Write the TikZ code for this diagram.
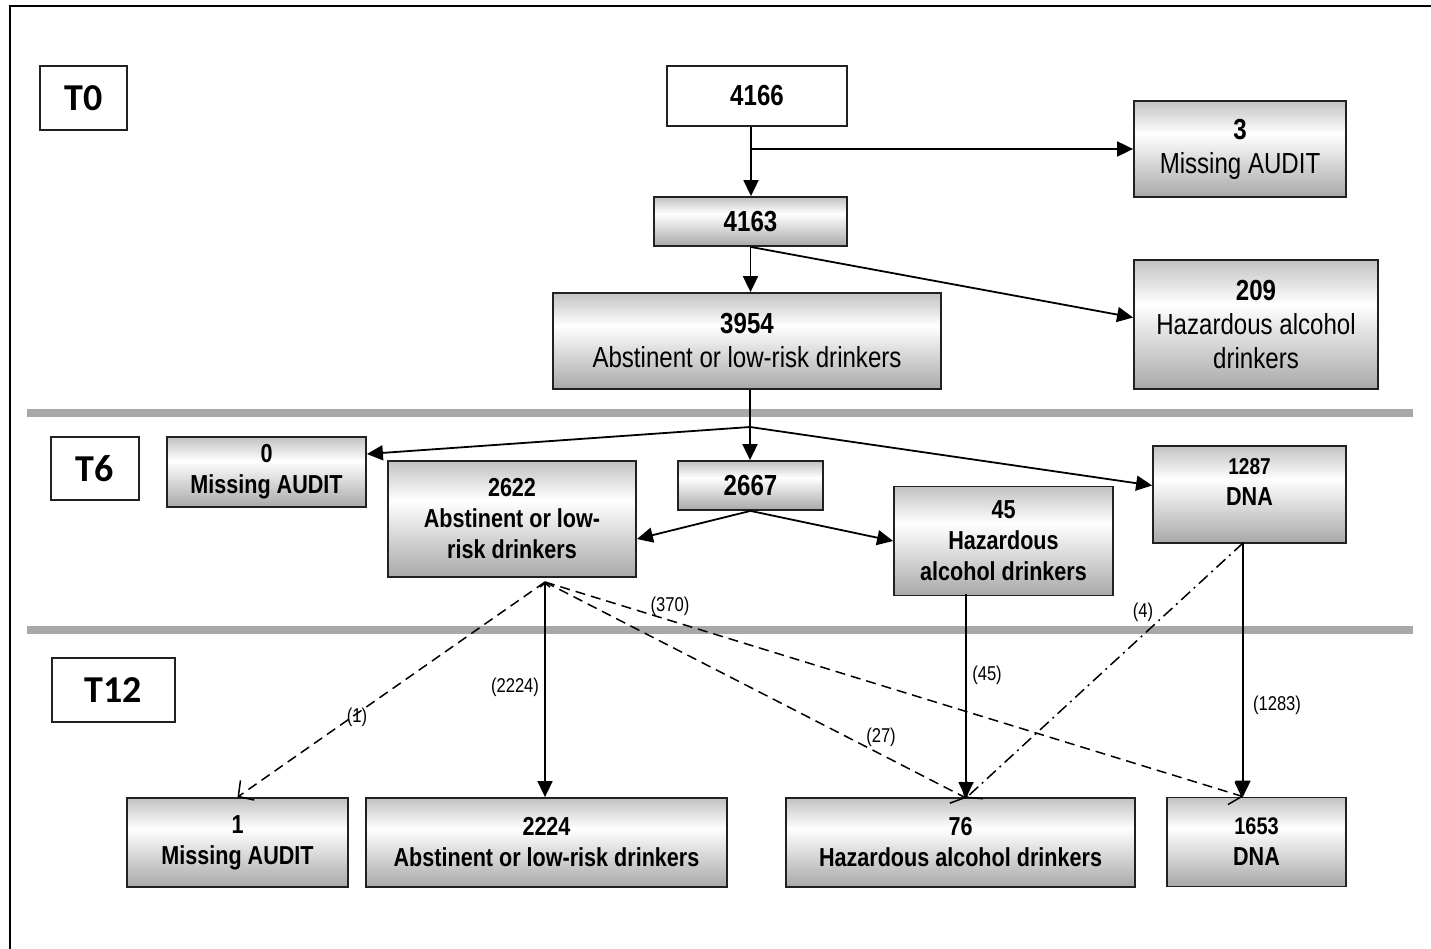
\documentclass[tikz,border=0pt]{standalone}
\usepackage{fontspec}
\newfontfamily\narrowfont[FakeStretch=0.83]{Liberation Sans}
\newfontfamily\calfont{Carlito}
\usetikzlibrary{arrows.meta}
\definecolor{shB}{gray}{0.66}
\definecolor{shT}{gray}{0.76}
\definecolor{sepgray}{gray}{0.66}
\definecolor{bordergray}{gray}{0.13}
\pgfdeclareverticalshading{boxsh}{100bp}{color(0bp)=(shB); color(25bp)=(shB); color(58bp)=(white); color(75bp)=(shT); color(100bp)=(shT)}
\tikzset{
  box/.style={draw=bordergray, line width=1.8pt, inner sep=0pt, align=center, shade, shading=boxsh},
  wbox/.style={draw=bordergray, line width=1.8pt, inner sep=0pt, align=center, fill=white},
  tlab/.style={draw=bordergray, line width=1.8pt, inner sep=0pt, align=center, fill=white,
    font={\calfont\fontsize{38}{40}\selectfont\bfseries}},
  topf/.style={font={\narrowfont\fontsize{29}{34}\selectfont}},
  lowf/.style={font={\narrowfont\fontsize{26}{31}\selectfont\bfseries}},
  numlab/.style={font={\narrowfont\fontsize{20}{22}\selectfont}, inner sep=1pt},
  arr/.style={line width=1.8pt, -{Triangle[length=16pt,width=15pt]}},
  darr/.style={line width=1.5pt, dash pattern=on 10pt off 6pt, -{Straight Barb[length=11pt,width=24pt]}},
  ddarr/.style={line width=1.5pt, dash pattern=on 12pt off 5pt on 2pt off 5pt, -{Straight Barb[length=11pt,width=24pt]}},
  sepline/.style={draw=sepgray, line width=8pt},
}
\begin{document}
\begin{tikzpicture}[x=1pt,y=-1pt]
\useasboundingbox (0,0) rectangle (1431,949);
\clip (0,0) rectangle (1431,949);
\fill[white] (0,0) rectangle (1431,949);
\draw[line width=2.5pt] (10,6) rectangle (1460,980);
% separators
\draw[sepline] (27,413) -- (1413,413);
\draw[sepline] (27,630) -- (1413,630);
% time labels
\node[tlab, minimum width=87pt, minimum height=64pt] (T0) at (83.5,98) {T0};
\node[tlab, minimum width=88pt, minimum height=63pt] (T6) at (95,468.5) {T6};
\node[tlab, minimum width=123pt, minimum height=64pt] (T12) at (113.5,690) {T12};
% T0 boxes
\node[wbox, topf, minimum width=180pt, minimum height=60pt] (n4166) at (757,96) {\fontsize{29}{34}\selectfont\bfseries 4166};
\node[box, topf, minimum width=193pt, minimum height=49pt] (n4163) at (750.5,221.5) {\fontsize{29}{34}\selectfont\bfseries 4163};
\node[box, topf, minimum width=388pt, minimum height=96pt] (n3954) at (747,341) {\textbf{3954}\\Abstinent or low-risk drinkers};
\node[box, topf, minimum width=212pt, minimum height=96pt] (m3) at (1240,149) {\textbf{3}\\Missing AUDIT};
\node[box, topf, minimum width=244pt, minimum height=129pt] (h209) at (1256,324.5) {\textbf{209}\\Hazardous alcohol\\drinkers};
% T6 boxes
\node[box, lowf, minimum width=199pt, minimum height=70pt] (m0) at (266.5,472) {0\\Missing AUDIT};
\node[box, lowf, minimum width=248pt, minimum height=116pt] (a2622) at (512,519) {2622\\Abstinent or low-\\risk drinkers};
\node[box, lowf, minimum width=145pt, minimum height=49pt] (n2667) at (750.5,485.5) {\fontsize{29}{34}\selectfont 2667};
\node[box, lowf, minimum width=219pt, minimum height=109pt] (h45) at (1003.5,541) {45\\Hazardous\\alcohol drinkers};
\node[box, lowf, minimum width=193pt, minimum height=97pt] (d1287) at (1249.5,494.5) {\fontsize{23}{28}\selectfont 1287\\DNA\\[-6pt]\mbox{}};
% T12 boxes
\node[box, lowf, minimum width=221pt, minimum height=89pt] (m1) at (237.5,842.5) {1\\Missing AUDIT};
\node[box, lowf, minimum width=361pt, minimum height=89pt] (a2224) at (546.5,842.5) {2224\\Abstinent or low-risk drinkers};
\node[box, lowf, minimum width=349pt, minimum height=89pt] (h76) at (960.5,842.5) {76\\Hazardous alcohol drinkers};
\node[box, lowf, minimum width=179pt, minimum height=89pt] (d1653) at (1256.5,842) {\fontsize{24}{30}\selectfont 1653\\DNA};
% junction coordinates
\coordinate (j1) at (751,149);
\coordinate (j2) at (750,427);
\coordinate (s) at (545,582);
\coordinate (p45) at (966,594);
\coordinate (t76) at (966,798);
\coordinate (q) at (1243,543);
% T0 connectors
\draw[arr] (j1 |- n4166.south) -- (j1 |- n4163.north);
\draw[arr] (j1) -- (j1 -| m3.west);
\draw[arr] (n4163.south) -- (n4163.south |- n3954.north);
\draw[arr] (n4163.south) -- ([yshift=7pt]h209.west);
% T0 -> T6
\draw[line width=1.8pt] (j2 |- n3954.south) -- (j2);
\draw[arr] (j2) -- ([yshift=18pt]m0.east);
\draw[arr] (j2) -- (j2 |- n2667.north);
\draw[arr] (j2) -- ([yshift=9pt]d1287.west);
\draw[arr] (n2667.south) -- ([yshift=-20pt]a2622.east);
\draw[arr] (n2667.south) -- (h45.west);
% T6 -> T12
\draw[line width=1.6pt, {Straight Barb[length=4pt,width=10pt]}-{Triangle[length=16pt,width=15pt]}] (s) -- (s |- a2224.north);
\draw[darr] (s) -- (m1.north);
\draw[darr] (s) -- (t76);
\draw[darr] (s) -- (q |- d1653.north);
\draw[arr] (p45) -- (t76);
\draw[arr] (q) -- (q |- d1653.north);
\draw[ddarr] (q) -- (t76);
% edge labels
\node[numlab] (l1) at (357,717) {(1)};
\node[numlab] (l2224) at (515,687) {(2224)};
\node[numlab] (l370) at (670,606) {(370)};
\node[numlab] (l27) at (881,737) {(27)};
\node[numlab] (l45) at (987,675) {(45)};
\node[numlab] (l4) at (1143,612) {(4)};
\node[numlab] (l1283) at (1277,705) {(1283)};
\end{tikzpicture}
\end{document}
